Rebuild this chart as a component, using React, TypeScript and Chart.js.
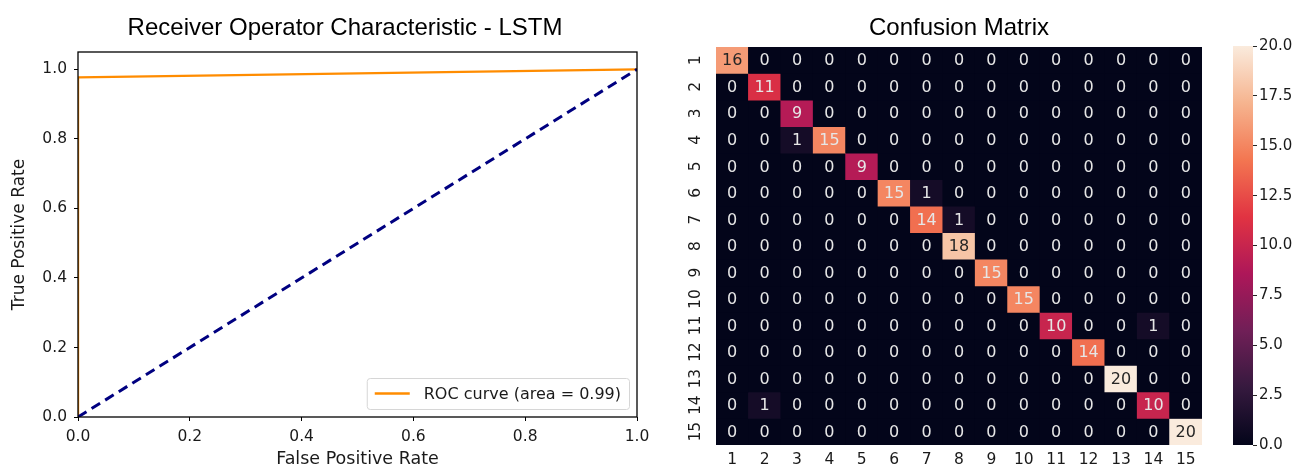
import React, { useEffect, useRef } from 'react';
import { Chart, registerables } from 'chart.js';

Chart.register(...registerables);

// ---------- ROC data ----------
const rocFpr = [0, 0, 1];
const rocTpr = [0, 0.977, 1];
const chanceFpr = [0, 1];
const chanceTpr = [0, 1];
const rocLegendLabel = 'ROC curve (area = 0.99)';
const rocXTicks = [0, 0.2, 0.4, 0.6, 0.8, 1.0];
const rocYTicks = [0, 0.2, 0.4, 0.6, 0.8, 1.0];

// ---------- Confusion matrix data ----------
const classLabels = ['1', '2', '3', '4', '5', '6', '7', '8', '9', '10', '11', '12', '13', '14', '15'];
const row1 = [16, 0, 0, 0, 0, 0, 0, 0, 0, 0, 0, 0, 0, 0, 0];
const row2 = [0, 11, 0, 0, 0, 0, 0, 0, 0, 0, 0, 0, 0, 0, 0];
const row3 = [0, 0, 9, 0, 0, 0, 0, 0, 0, 0, 0, 0, 0, 0, 0];
const row4 = [0, 0, 1, 15, 0, 0, 0, 0, 0, 0, 0, 0, 0, 0, 0];
const row5 = [0, 0, 0, 0, 9, 0, 0, 0, 0, 0, 0, 0, 0, 0, 0];
const row6 = [0, 0, 0, 0, 0, 15, 1, 0, 0, 0, 0, 0, 0, 0, 0];
const row7 = [0, 0, 0, 0, 0, 0, 14, 1, 0, 0, 0, 0, 0, 0, 0];
const row8 = [0, 0, 0, 0, 0, 0, 0, 18, 0, 0, 0, 0, 0, 0, 0];
const row9 = [0, 0, 0, 0, 0, 0, 0, 0, 15, 0, 0, 0, 0, 0, 0];
const row10 = [0, 0, 0, 0, 0, 0, 0, 0, 0, 15, 0, 0, 0, 0, 0];
const row11 = [0, 0, 0, 0, 0, 0, 0, 0, 0, 0, 10, 0, 0, 1, 0];
const row12 = [0, 0, 0, 0, 0, 0, 0, 0, 0, 0, 0, 14, 0, 0, 0];
const row13 = [0, 0, 0, 0, 0, 0, 0, 0, 0, 0, 0, 0, 20, 0, 0];
const row14 = [0, 1, 0, 0, 0, 0, 0, 0, 0, 0, 0, 0, 0, 10, 0];
const row15 = [0, 0, 0, 0, 0, 0, 0, 0, 0, 0, 0, 0, 0, 0, 20];
const confusion = [row1, row2, row3, row4, row5, row6, row7, row8, row9, row10, row11, row12, row13, row14, row15];
const colorMin = 0;
const colorMax = 20;
const colorbarTicks = [0, 2.5, 5, 7.5, 10, 12.5, 15, 17.5, 20];

// ---------- styling ----------
const DV = "'DejaVu Sans', sans-serif";
const LS = "'Liberation Sans', Arial, sans-serif";
const TEXT = '#1a1a1a';

const rocketStops: [number, string][] = [
  [0, '#03051a'],
  [1 / 7, '#35193e'],
  [2 / 7, '#701f57'],
  [3 / 7, '#ad1759'],
  [4 / 7, '#e13342'],
  [5 / 7, '#f37651'],
  [6 / 7, '#f6b48f'],
  [1, '#faebdd'],
];

function hexToRgb(h: string) {
  const n = parseInt(h.slice(1), 16);
  return [(n >> 16) & 255, (n >> 8) & 255, n & 255];
}

function rocketRgb(t: number) {
  const u = Math.max(0, Math.min(1, t));
  for (let i = 0; i < rocketStops.length - 1; i++) {
    const [p0, c0] = rocketStops[i];
    const [p1, c1] = rocketStops[i + 1];
    if (u <= p1) {
      const f = (u - p0) / (p1 - p0);
      const a = hexToRgb(c0);
      const b = hexToRgb(c1);
      return a.map((v, k) => Math.round(v + (b[k] - v) * f));
    }
  }
  return hexToRgb(rocketStops[rocketStops.length - 1][1]);
}

function rgbStr(c: number[]) {
  return `rgb(${c[0]},${c[1]},${c[2]})`;
}

function luminance(c: number[]) {
  const lin = c.map((v) => {
    const s = v / 255;
    return s <= 0.03928 ? s / 12.92 : Math.pow((s + 0.055) / 1.055, 2.4);
  });
  return 0.2126 * lin[0] + 0.7152 * lin[1] + 0.0722 * lin[2];
}

const cellColor = (v: number) => rocketRgb((v - colorMin) / (colorMax - colorMin));

export default function App() {
  const rocRef = useRef<HTMLCanvasElement>(null);
  const cmRef = useRef<HTMLCanvasElement>(null);
  const cbRef = useRef<HTMLCanvasElement>(null);

  useEffect(() => {
    document.body.style.margin = '0';

    // ---------- ROC chart ----------
    const framePlugin = {
      id: 'frame',
      afterDatasetsDraw(chart: any) {
        const { ctx, chartArea: a } = chart;
        ctx.save();
        ctx.strokeStyle = '#000';
        ctx.lineWidth = 1.3;
        ctx.strokeRect(a.left, a.top, a.right - a.left, a.bottom - a.top);
        ctx.restore();
      },
    };
    const legendPlugin = {
      id: 'rocLegend',
      afterDraw(chart: any) {
        const { ctx, chartArea: a } = chart;
        const ds = chart.data.datasets[0];
        ctx.save();
        ctx.font = `16px ${DV}`;
        const tw = ctx.measureText(ds.label).width;
        const h = 31;
        const w = 8 + 35 + 14 + tw + 8;
        const x = a.right - 8 - w;
        const y = a.bottom - 8 - h;
        ctx.fillStyle = 'rgba(255,255,255,0.85)';
        ctx.strokeStyle = '#d6d6d6';
        ctx.lineWidth = 1;
        ctx.beginPath();
        (ctx as any).roundRect(x + 0.5, y + 0.5, w, h, 3);
        ctx.fill();
        ctx.stroke();
        ctx.strokeStyle = ds.borderColor;
        ctx.lineWidth = 2.4;
        ctx.beginPath();
        ctx.moveTo(x + 8, y + h / 2);
        ctx.lineTo(x + 43, y + h / 2);
        ctx.stroke();
        ctx.fillStyle = TEXT;
        ctx.textBaseline = 'middle';
        ctx.textAlign = 'left';
        ctx.fillText(ds.label, x + 57, y + h / 2 + 1);
        ctx.restore();
      },
    };

    const roc = new Chart(rocRef.current!, {
      type: 'scatter',
      data: {
        datasets: [
          {
            label: rocLegendLabel,
            data: rocFpr.map((x, i) => ({ x, y: rocTpr[i] })),
            showLine: true,
            borderColor: '#ff8c00',
            borderWidth: 2.4,
            pointRadius: 0,
            order: 2,
          },
          {
            label: 'chance',
            data: chanceFpr.map((x, i) => ({ x, y: chanceTpr[i] })),
            showLine: true,
            borderColor: '#000080',
            borderWidth: 3,
            borderDash: [10, 6],
            pointRadius: 0,
            order: 1,
          },
        ],
      },
      options: {
        animation: false,
        responsive: false,
        layout: { padding: { left: 0, right: 0, top: 0, bottom: 0 } },
        plugins: {
          legend: { display: false },
          tooltip: { enabled: false },
          title: {
            display: true,
            text: 'Receiver Operator Characteristic - LSTM',
            font: { family: LS, size: 24, weight: 'normal' },
            color: '#000',
            padding: { top: 13.6, bottom: 9.6 },
          },
        },
        scales: {
          x: {
            type: 'linear',
            min: 0,
            max: 1,
            afterBuildTicks: (s: any) => {
              s.ticks = rocXTicks.map((v) => ({ value: v }));
            },
            afterFit: (s: any) => {
              s.height = 52;
            },
            ticks: {
              callback: (v: any) => Number(v).toFixed(1),
              font: { family: DV, size: 15.5 },
              color: TEXT,
              padding: 7,
              maxRotation: 0,
            },
            grid: { drawOnChartArea: false, drawTicks: true, tickLength: 4, color: '#000' },
            border: { display: false },
            title: {
              display: true,
              text: 'False Positive Rate',
              font: { family: DV, size: 17.5 },
              color: TEXT,
              padding: { top: 0, bottom: -1 },
            },
          },
          y: {
            type: 'linear',
            min: 0,
            max: 1.05,
            afterBuildTicks: (s: any) => {
              s.ticks = rocYTicks.map((v) => ({ value: v }));
            },
            afterFit: (s: any) => {
              s.width = 78;
            },
            ticks: {
              callback: (v: any) => Number(v).toFixed(1),
              font: { family: DV, size: 15.5 },
              color: TEXT,
              padding: 7,
            },
            grid: { drawOnChartArea: false, drawTicks: true, tickLength: 4, color: '#000' },
            border: { display: false },
            title: {
              display: true,
              text: 'True Positive Rate',
              font: { family: DV, size: 17 },
              color: TEXT,
              padding: { top: 9, bottom: 0 },
            },
          },
          ySpacer: {
            type: 'linear',
            position: 'right',
            display: true,
            ticks: { display: false },
            grid: { display: false },
            border: { display: false },
            afterFit: (s: any) => {
              s.width = 53;
            },
          },
        },
      } as any,
      plugins: [framePlugin, legendPlugin],
    });

    // ---------- Confusion matrix ----------
    const cmBackground = {
      id: 'cmBackground',
      beforeDatasetsDraw(chart: any) {
        const { ctx, chartArea: a } = chart;
        ctx.save();
        ctx.fillStyle = rgbStr(cellColor(0));
        ctx.fillRect(a.left, a.top, a.right - a.left, a.bottom - a.top);
        ctx.restore();
      },
    };
    const cmText = {
      id: 'cmText',
      afterDatasetsDraw(chart: any) {
        const { ctx, chartArea: a } = chart;
        const yScale = chart.scales.y;
        ctx.save();
        ctx.font = `16px ${DV}`;
        ctx.textAlign = 'center';
        ctx.textBaseline = 'middle';
        chart.data.datasets.forEach((ds: any, i: number) => {
          const meta = chart.getDatasetMeta(i);
          meta.data.forEach((el: any, j: number) => {
            const v = confusion[i][j];
            const c = cellColor(v);
            ctx.fillStyle = luminance(c) > 0.408 ? '#262626' : '#e6e6e6';
            const p = el.getCenterPoint();
            ctx.fillText(String(v), p.x, p.y + 1);
          });
        });
        // rotated y tick labels
        ctx.fillStyle = TEXT;
        ctx.font = `15.5px ${DV}`;
        classLabels.forEach((lab, i) => {
          const yc = yScale.getPixelForValue(i + 0.5);
          ctx.save();
          ctx.translate(a.left - 20, yc);
          ctx.rotate(-Math.PI / 2);
          ctx.textAlign = 'center';
          ctx.textBaseline = 'middle';
          ctx.fillText(lab, 0, 0);
          ctx.restore();
        });
        ctx.restore();
      },
    };

    const cm = new Chart(cmRef.current!, {
      type: 'bar',
      data: {
        labels: classLabels,
        datasets: confusion.map((row, i) => ({
          label: classLabels[i],
          data: row.map(() => [i, i + 1]),
          backgroundColor: row.map((v) => rgbStr(cellColor(v))),
          borderWidth: 0,
          grouped: false,
          barPercentage: 1,
          categoryPercentage: 1,
        })),
      },
      options: {
        animation: false,
        responsive: false,
        layout: { padding: { left: 56, right: 18, top: 0, bottom: 0 } },
        plugins: {
          legend: { display: false },
          tooltip: { enabled: false },
          title: {
            display: true,
            text: 'Confusion Matrix',
            font: { family: LS, size: 24, weight: 'normal' },
            color: '#000',
            padding: { top: 13.6, bottom: 4.6 },
          },
        },
        scales: {
          x: {
            type: 'category',
            afterFit: (s: any) => {
              s.height = 24;
            },
            ticks: {
              font: { family: DV, size: 15.5 },
              color: TEXT,
              padding: 6,
              maxRotation: 0,
              autoSkip: false,
            },
            grid: { display: false, drawTicks: false },
            border: { display: false },
          },
          y: {
            type: 'linear',
            min: 0,
            max: 15,
            reverse: true,
            display: false,
          },
        },
      } as any,
      plugins: [cmBackground, cmText],
    });

    // ---------- Colorbar ----------
    const cbGradient = {
      id: 'cbGradient',
      beforeDatasetsDraw(chart: any) {
        const { ctx, chartArea: a } = chart;
        const ys = chart.scales.y;
        const y0 = ys.getPixelForValue(colorMin);
        const y1 = ys.getPixelForValue(colorMax);
        const g = ctx.createLinearGradient(0, y0, 0, y1);
        rocketStops.forEach(([p, c]) => g.addColorStop(p, c));
        ctx.save();
        ctx.fillStyle = g;
        ctx.fillRect(a.left, y1, a.right - a.left, y0 - y1);
        ctx.restore();
      },
    };

    const cb = new Chart(cbRef.current!, {
      type: 'scatter',
      data: { datasets: [] },
      options: {
        animation: false,
        responsive: false,
        layout: { padding: { left: 13, right: 0, top: 46, bottom: 24 } },
        plugins: { legend: { display: false }, tooltip: { enabled: false } },
        scales: {
          x: { type: 'linear', display: false, min: 0, max: 1 },
          y: {
            type: 'linear',
            position: 'right',
            min: colorMin,
            max: colorMax,
            afterBuildTicks: (s: any) => {
              s.ticks = colorbarTicks.map((v) => ({ value: v }));
            },
            afterFit: (s: any) => {
              s.width = 50;
            },
            ticks: {
              callback: (v: any) => Number(v).toFixed(1),
              font: { family: DV, size: 15 },
              color: TEXT,
              padding: 2,
            },
            grid: { drawOnChartArea: false, drawTicks: true, tickLength: 4, color: '#262626' },
            border: { display: false },
          },
        },
      } as any,
      plugins: [cbGradient],
    });

    return () => {
      roc.destroy();
      cm.destroy();
      cb.destroy();
    };
  }, []);

  return (
    <div style={{ position: 'fixed', left: 0, top: 0, width: 1303, height: 469, background: '#fff', overflow: 'hidden' }}>
      <canvas ref={rocRef} width={690} height={469} style={{ position: 'absolute', left: 0, top: 0, width: 690, height: 469 }} />
      <canvas ref={cmRef} width={560} height={469} style={{ position: 'absolute', left: 660, top: 0, width: 560, height: 469 }} />
      <canvas ref={cbRef} width={83} height={469} style={{ position: 'absolute', left: 1220, top: 0, width: 83, height: 469 }} />
    </div>
  );
}
